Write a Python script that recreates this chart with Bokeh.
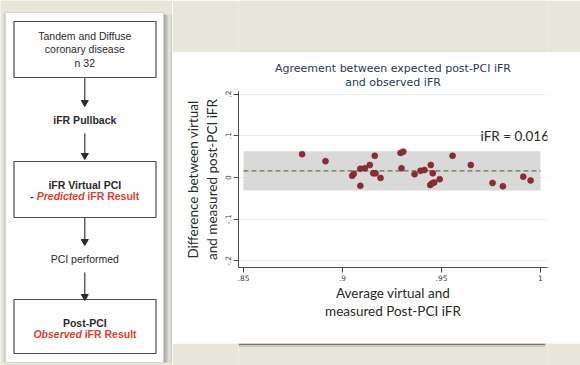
from bokeh.plotting import figure
from bokeh.layouts import row, column
from bokeh.models import Range1d, FixedTicker, Title
from bokeh.core.properties import value
from bokeh.embed import file_html
from bokeh.resources import INLINE

# ---------------- data ----------------
avg_ifr = [0.8796, 0.8914, 0.9049, 0.9057, 0.9090, 0.9113, 0.9138, 0.9163,
           0.9155, 0.9167, 0.9090, 0.9192, 0.9293, 0.9307, 0.9298, 0.9364,
           0.9394, 0.9414, 0.9446, 0.9456, 0.9443, 0.9453, 0.9463, 0.9491,
           0.9556, 0.9648, 0.9758, 0.9810, 0.9913, 0.9950]
diff_ifr = [0.056, 0.039, 0.004, 0.009, 0.021, 0.022, 0.030, 0.052,
            0.010, 0.010, -0.020, -0.001, 0.059, 0.062, 0.022, 0.008,
            0.016, 0.018, 0.030, 0.010, -0.018, -0.014, -0.012, -0.004,
            0.052, 0.030, -0.013, -0.021, 0.002, -0.007]
mean_diff = 0.016
loa_upper = 0.063
loa_lower = -0.031

x_ticks = [0.85, 0.9, 0.95, 1.0]
x_tick_labels = [".85", ".9", ".95", "1"]
y_ticks = [-0.2, -0.1, 0.0, 0.1, 0.2]
y_tick_labels = ["-.2", "-.1", "0", ".1", ".2"]

title_line1 = "Agreement between expected post-PCI iFR"
title_line2 = "and observed iFR"
x_label = "Average virtual and\nmeasured Post-PCI iFR"
y_label = "Difference between virtual\nand measured post-PCI iFR"
mean_label = "iFR = %.3f" % mean_diff

flow_box1 = ["Tandem and Diffuse", "coronary disease", "n 32"]
flow_step1 = "iFR Pullback"
flow_box2_title = "iFR Virtual PCI"
flow_box2_parts = ["-", "Predicted", "iFR Result"]
flow_step2 = "PCI performed"
flow_box3_title = "Post-PCI"
flow_box3_parts = ["Observed", "iFR Result"]

BEIGE = "#e8e5da"
DARK = "#2b2b2b"
RED = "#e0402e"
SANS = "Liberation Sans"
HUMAN = "Lato"

# ---------------- left flowchart panel (page pixel coordinates) ----------------
left = figure(width=172, height=365, x_range=Range1d(0, 172), y_range=Range1d(365, 0),
              output_backend="svg", toolbar_location=None, min_border=0,
              x_axis_location=None, y_axis_location=None,
              background_fill_color=BEIGE, border_fill_color=BEIGE, outline_line_color=None)
left.grid.visible = False

# panel shadow strips
shade_cols = ["#8f8f8b", "#a6a6a2", "#bcbcb7", "#cfcfca", "#dcdcd6", "#e4e4df", "#d2d2cd", "#c4c4bf"]
for i, c in enumerate(shade_cols):
    left.quad(left=163 + i * 1.125, right=163 + (i + 1) * 1.125, top=14, bottom=362,
              fill_color=c, line_color=None)
left.quad(left=3, right=5, top=13, bottom=362, fill_color="#cfcfca", line_color=None)
left.quad(left=5, right=163, top=12, bottom=362, fill_color="white", line_color="#d0d0cc", line_width=0.8)

# boxes
box_l, box_r = 13.5, 155.5
for t, b in [(21, 77), (161, 217), (299, 353)]:
    left.quad(left=box_l, right=box_r, top=t, bottom=b, fill_color="white",
              line_color="#4a4a4a", line_width=1.2)

# arrows
cx = 84.3
for y0, y1 in [(77.5, 101), (133, 154), (217.5, 240), (272, 295)]:
    left.segment(x0=cx, y0=y0, x1=cx, y1=y1, line_color="#3a3a3a", line_width=1.2)
    left.scatter(x=[cx], y=[y1 + 1], marker="inverted_triangle", size=7,
                 fill_color="#2a2a2a", line_color="#2a2a2a")

fs = "10.5px"
left.text(x=[cx] * 3, y=[35, 48.5, 62], text=flow_box1, text_align="center", text_baseline="middle",
          text_font=value(SANS), text_font_size=fs, text_color=DARK)
left.text(x=[cx], y=[119.5], text=[flow_step1], text_align="center", text_baseline="middle",
          text_font=value(SANS), text_font_size=fs, text_font_style="bold", text_color=DARK)
left.text(x=[cx], y=[184], text=[flow_box2_title], text_align="center", text_baseline="middle",
          text_font=value(SANS), text_font_size=fs, text_font_style="bold", text_color=DARK)
left.text(x=[29.8], y=[195.5], text=[flow_box2_parts[0]], text_align="left", text_baseline="middle",
          text_font=value(SANS), text_font_size=fs, text_font_style="bold", text_color=DARK)
left.text(x=[36.2], y=[195.5], text=[flow_box2_parts[1]], text_align="left", text_baseline="middle",
          text_font=value(SANS), text_font_size=fs, text_font_style="bold italic", text_color=RED)
left.text(x=[86.8], y=[195.5], text=[flow_box2_parts[2]], text_align="left", text_baseline="middle",
          text_font=value(SANS), text_font_size=fs, text_font_style="bold", text_color=RED)
left.text(x=[cx], y=[258], text=[flow_step2], text_align="center", text_baseline="middle",
          text_font=value(SANS), text_font_size=fs, text_color=DARK)
left.text(x=[cx], y=[322], text=[flow_box3_title], text_align="center", text_baseline="middle",
          text_font=value(SANS), text_font_size=fs, text_font_style="bold", text_color=DARK)
left.text(x=[32.9], y=[333.5], text=[flow_box3_parts[0]], text_align="left", text_baseline="middle",
          text_font=value(SANS), text_font_size=fs, text_font_style="bold italic", text_color=RED)
left.text(x=[84.2], y=[333.5], text=[flow_box3_parts[1]], text_align="left", text_baseline="middle",
          text_font=value(SANS), text_font_size=fs, text_font_style="bold", text_color=RED)

# ---------------- spacers around the chart panel ----------------
top = figure(width=408, height=52, x_range=Range1d(172, 580), y_range=Range1d(52, 0),
             output_backend="svg", toolbar_location=None, min_border=0,
             x_axis_location=None, y_axis_location=None,
             background_fill_color=BEIGE, border_fill_color=BEIGE, outline_line_color=None)
top.grid.visible = False
top.quad(left=172, right=577, top=51, bottom=52, fill_color="#dcdcd4", line_color=None)

bottom = figure(width=408, height=22, x_range=Range1d(172, 580), y_range=Range1d(365, 343),
                output_backend="svg", toolbar_location=None, min_border=0,
                x_axis_location=None, y_axis_location=None,
                background_fill_color=BEIGE, border_fill_color=BEIGE, outline_line_color=None)
bottom.grid.visible = False
bottom.quad(left=172, right=577, top=343, bottom=344.5, fill_color="#77776f", line_color=None)
bottom.quad(left=172, right=577, top=344.5, bottom=346.5, fill_color="#c9c8bf", line_color=None)

# ---------------- Bland-Altman chart ----------------
p = figure(width=408, height=291, x_range=Range1d(0.84747, 1.00354), y_range=Range1d(-0.2158, 0.2062),
           output_backend="svg", toolbar_location=None,
           min_border_left=66, min_border_right=33, min_border_top=39, min_border_bottom=76,
           background_fill_color="white", border_fill_color="white", outline_line_color=None)

p.title.text = title_line1
p.add_layout(Title(text=title_line2), "above")
for t in [p.title] + [r for r in p.above if isinstance(r, Title)]:
    t.align = "center"
    t.text_font = "DejaVu Sans"
    t.text_font_size = "11px"
    t.text_font_style = "normal"
    t.text_color = "#2a3957"
    t.text_line_height = 0.85
    t.standoff = 0
    t.offset = 0
p.above[-1].standoff = 5
p.title.standoff = -7

p.xgrid.visible = False
p.ygrid.ticker = FixedTicker(ticks=y_ticks)
p.ygrid.grid_line_color = "#e8eded"
p.ygrid.grid_line_width = 1

p.quad(left=[x_ticks[0]], right=[x_ticks[-1]], bottom=[loa_lower], top=[loa_upper],
       fill_color="#d9d9d9", line_color=None)
p.line([x_ticks[0], x_ticks[-1]], [mean_diff, mean_diff], line_color="#587a40",
       line_width=1.2, line_dash="5 3")
p.scatter(avg_ifr, diff_ifr, size=6, fill_color="#8a2d37", line_color="#7a2630", line_width=0.6)
p.text(x=[0.9697], y=[0.1007], text=[mean_label], text_align="left", text_baseline="middle",
       text_font=value(HUMAN), text_font_size="13.5px", text_color="#2a2a2a")

p.xaxis.ticker = FixedTicker(ticks=x_ticks)
p.xaxis.major_label_overrides = dict(zip(x_ticks, x_tick_labels))
p.yaxis.ticker = FixedTicker(ticks=y_ticks)
p.yaxis.major_label_overrides = dict(zip(y_ticks, y_tick_labels))
p.yaxis.major_label_orientation = "vertical"
for ax in (p.xaxis, p.yaxis):
    ax.axis_line_color = "#4a4a4a"
    ax.major_tick_line_color = "#4a4a4a"
    ax.major_tick_out = 5
    ax.major_tick_in = 0
    ax.minor_tick_line_color = None
    ax.major_label_text_font = "DejaVu Sans"
    ax.major_label_text_font_size = "7.5px"
    ax.major_label_text_color = "#444444"
    ax.major_label_standoff = 2
    ax.axis_label_text_font = HUMAN
    ax.axis_label_text_font_size = "13.5px"
    ax.axis_label_text_font_style = "normal"
    ax.axis_label_text_color = "#2a2a2a"
    ax.axis_label_text_line_height = 1.15
p.xaxis.axis_label_standoff = 1
p.yaxis.axis_label_standoff = 3
p.xaxis.axis_label = x_label
p.yaxis.axis_label = y_label

layout = row(left, column(top, p, bottom))

open("out.html", "w").write(file_html(layout, INLINE))
